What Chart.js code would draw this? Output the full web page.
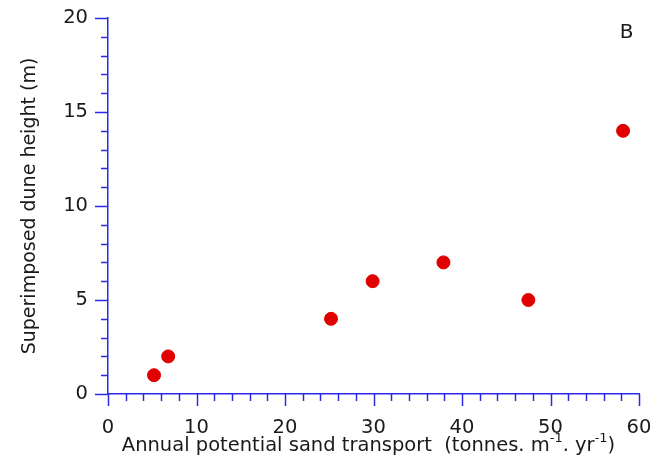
<!DOCTYPE html>
<html>
<head>
<meta charset="utf-8">
<script src="https://cdn.jsdelivr.net/npm/chart.js@4/dist/chart.umd.min.js"></script>
<style>
  html, body { margin: 0; padding: 0; background: #fff; }
  #wrap { width: 662px; height: 458px; position: relative; }
</style>
</head>
<body>
<div id="wrap"><canvas id="grafico"></canvas></div>
<script>
// dados
const transporte = [5.2, 6.8, 25.2, 29.9, 37.9, 47.5, 58.2];
const alturaDuna = [1, 2, 4, 6, 7, 5, 14];
const ticksX = [0, 10, 20, 30, 40, 50, 60];
const ticksY = [0, 5, 10, 15, 20];

const corEixo = '#2a2ae6';
const corTexto = '#1a1a1a';
const fonte = '"DejaVu Sans", sans-serif';

// ticks maiores e menores desenhados a partir das escalas
const ticksPlugin = {
  id: 'ticksPlugin',
  afterDraw(chart) {
    const ctx = chart.ctx;
    const sx = chart.scales.x, sy = chart.scales.y;
    const area = chart.chartArea;
    ctx.save();
    ctx.strokeStyle = corEixo;
    ctx.lineWidth = 1.5;
    for (let v = 0; v <= 60; v += 2) {
      const px = Math.round(sx.getPixelForValue(v)) + 0.5;
      const len = v % 10 === 0 ? 12 : 7;
      ctx.beginPath();
      ctx.moveTo(px, area.bottom);
      ctx.lineTo(px, area.bottom + len);
      ctx.stroke();
    }
    for (let v = 0; v <= 20; v += 1) {
      const py = Math.round(sy.getPixelForValue(v)) + 0.5;
      const len = v % 5 === 0 ? 13 : 7;
      ctx.beginPath();
      ctx.moveTo(area.left, py);
      ctx.lineTo(area.left - len, py);
      ctx.stroke();
    }

    // titulo do eixo x com sobrescritos
    const partes = [
      { t: 'Annual potential sand transport  (tonnes. m', sup: false },
      { t: '-1', sup: true },
      { t: '. yr', sup: false },
      { t: '-1', sup: true },
      { t: ')', sup: false }
    ];
    const fNormal = '19.5px ' + fonte;
    const fSup = '13px ' + fonte;
    let largura = 0;
    partes.forEach(p => {
      ctx.font = p.sup ? fSup : fNormal;
      largura += ctx.measureText(p.t).width;
    });
    let x = (area.left + area.right) / 2 - 5 - largura / 2;
    const yBase = 451;
    ctx.fillStyle = corTexto;
    ctx.textBaseline = 'alphabetic';
    ctx.textAlign = 'left';
    partes.forEach(p => {
      ctx.font = p.sup ? fSup : fNormal;
      ctx.fillText(p.t, x, p.sup ? yBase - 9 : yBase);
      x += ctx.measureText(p.t).width;
    });

    // letra do painel
    ctx.font = '20px ' + fonte;
    ctx.textAlign = 'center';
    ctx.textBaseline = 'middle';
    ctx.fillText('B', sx.getPixelForValue(58.6), sy.getPixelForValue(19.2));
    ctx.restore();
  }
};

const ctx = document.getElementById('grafico').getContext('2d');
new Chart(ctx, {
  type: 'scatter',
  data: {
    datasets: [{
      data: transporte.map((x, i) => ({ x: x, y: alturaDuna[i] })),
      backgroundColor: '#e00000',
      borderColor: '#e00000',
      pointRadius: 6.5,
      pointHoverRadius: 6.5
    }]
  },
  options: {
    responsive: true,
    maintainAspectRatio: false,
    animation: false,
    layout: { padding: { left: 0, top: 18, right: 23, bottom: 0 } },
    plugins: {
      legend: { display: false },
      tooltip: { enabled: false }
    },
    scales: {
      x: {
        type: 'linear',
        min: 0,
        max: 60,
        grid: { display: false, drawTicks: false },
        border: { display: true, color: corEixo, width: 1.5 },
        afterBuildTicks: s => { s.ticks = ticksX.map(v => ({ value: v })); },
        ticks: { color: corTexto, font: { family: fonte, size: 19.5 }, padding: 22, maxRotation: 0 },
        afterFit: s => { s.height = 64; s.paddingLeft = 0; s.paddingRight = 0; }
      },
      y: {
        type: 'linear',
        min: 0,
        max: 20,
        grid: { display: false, drawTicks: false },
        border: { display: true, color: corEixo, width: 1.5 },
        afterBuildTicks: s => { s.ticks = ticksY.map(v => ({ value: v })); },
        ticks: { color: corTexto, font: { family: fonte, size: 19.5 }, padding: 20 },
        title: {
          display: true,
          text: 'Superimposed dune height (m)',
          color: corTexto,
          font: { family: fonte, size: 19 },
          padding: { top: 19, bottom: 0 }
        },
        afterFit: s => { s.width = 108; s.paddingTop = 0; s.paddingBottom = 0; }
      }
    }
  },
  plugins: [ticksPlugin]
});
</script>
</body>
</html>
